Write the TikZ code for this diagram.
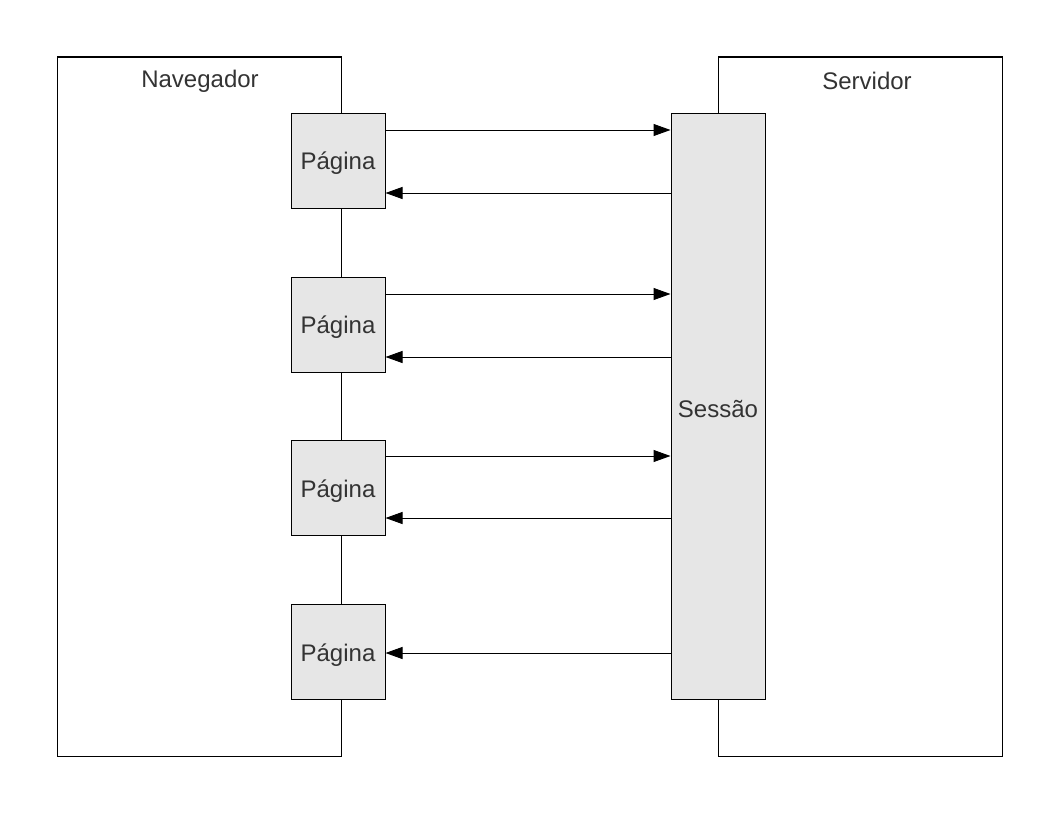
\documentclass[tikz,border=0pt]{standalone}
\usepackage{fontspec}
\setmainfont{Liberation Sans}
\usetikzlibrary{arrows.meta}
\definecolor{boxfill}{HTML}{E6E6E6}
\definecolor{txt}{HTML}{333333}
\newcommand{\lowtxt}[1]{\raisebox{-3pt}[\height][\depth]{#1}}
\begin{document}
\begin{tikzpicture}[x=1pt,y=-1pt,
  every node/.style={font=\fontsize{24}{29}\selectfont, text=txt},
  frame/.style={draw=black, line width=1pt},
  pagebox/.style={draw=black, line width=1pt, fill=boxfill, minimum width=94pt, minimum height=95pt, inner sep=0pt},
  sessbox/.style={draw=black, line width=1pt, fill=boxfill, minimum width=94pt, minimum height=586pt, inner sep=0pt},
  arr/.style={draw=black, line width=1pt, -{Triangle[length=17pt,width=12pt]}}
]
\useasboundingbox (0,0) rectangle (1056,816);
\fill[white] (0,0) rectangle (1056,816);
% outer frames
\draw[frame] (57,57) rectangle (341,756);
\draw[frame] (718,57) rectangle (1002,756);
\node (nav) at (200,81) {Navegador};
\node (srv) at (867,81) {Servidor};
% boxes
\node[pagebox] (p1) at (338,160.5) {\lowtxt{Página}};
\node[pagebox] (p2) at (338,324.5) {\lowtxt{Página}};
\node[pagebox] (p3) at (338,488) {\lowtxt{Página}};
\node[pagebox] (p4) at (338,652) {\lowtxt{Página}};
\node[sessbox] (s) at (718,406) {\lowtxt{Sessão}};
% arrows
\coordinate (a1) at (p1.east |- 0,130);
\coordinate (b1) at (s.west |- 0,193);
\coordinate (a2) at (p2.east |- 0,294);
\coordinate (b2) at (s.west |- 0,357);
\coordinate (a3) at (p3.east |- 0,456);
\coordinate (b3) at (s.west |- 0,518);
\coordinate (b4) at (s.west |- 0,653);
\draw[arr] (a1) -- (a1 -| s.west);
\draw[arr] (b1) -- (b1 -| p1.east);
\draw[arr] (a2) -- (a2 -| s.west);
\draw[arr] (b2) -- (b2 -| p2.east);
\draw[arr] (a3) -- (a3 -| s.west);
\draw[arr] (b3) -- (b3 -| p3.east);
\draw[arr] (b4) -- (b4 -| p4.east);
\end{tikzpicture}
\end{document}
